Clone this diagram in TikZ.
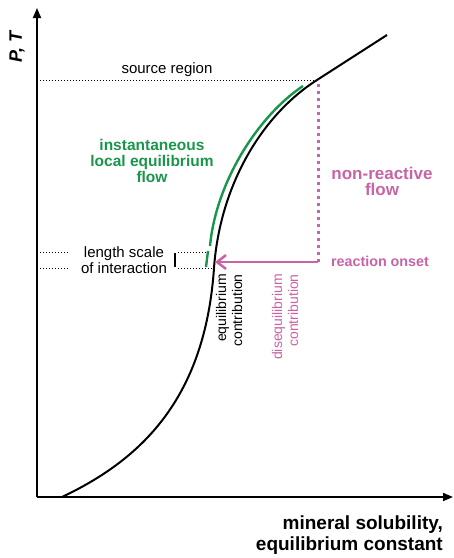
\documentclass[tikz,border=0pt]{standalone}
\usepackage{fontspec}
\setmainfont{Liberation Sans}
\usepackage{tikz}
\usetikzlibrary{arrows.meta}
\definecolor{flowpink}{RGB}{200,100,165}
\definecolor{eqgreen}{RGB}{25,150,75}

\begin{document}
\begin{tikzpicture}[x=1pt, y=-1pt,
    every node/.style={inner sep=0pt, align=center},
    plain/.style={font=\fontsize{15}{16}\selectfont},
    side/.style={font=\fontsize{14}{16}\selectfont, rotate=90, align=right, anchor=east},
    heavy/.style={font=\fontsize{#1}{16}\selectfont\bfseries},
    axis/.style={line width=1.8pt, -{Triangle[length=10pt,width=8pt]}},
    guide/.style={line width=1pt, dash pattern=on 1.2pt off 1.8pt},
    pinkdots/.style={flowpink, line width=3pt, dash pattern=on 3pt off 4pt}
]
\useasboundingbox (0,0) rectangle (454,558);

\coordinate (O) at (37,497);
\coordinate (ytop) at (37,8);
\coordinate (xend) at (453,497);
\coordinate (start) at (62,497);
\coordinate (turn) at (214,268);
\coordinate (src) at (317,80);
\coordinate (last) at (387,35);
\coordinate (srcaxis) at (37,80);
\coordinate (onset) at (318,262);
\coordinate (hit) at (215,262);

\draw[axis] (O) -- (ytop);
\draw[axis] (O) -- (xend);

\node[font=\fontsize{18}{20}\selectfont\bfseries\itshape, rotate=90] (PT) at (17,47) {P, T};
\node[font=\fontsize{19}{21}\selectfont\bfseries, align=right, anchor=east] (xlabel) at (443,535) {mineral solubility,\\equilibrium constant};

\draw[line width=2pt] (start) .. controls (140,460) and (205,400) .. (turn)
    .. controls (220,185) and (262,115) .. (src) -- (last);

\draw[eqgreen, line width=2.4pt] (210,246) .. controls (216,182) and (258,116) .. (303,86);
\draw[eqgreen, line width=2.4pt] (208,251) -- (206,267);

\draw[guide] (srcaxis) -- (src);
\node[plain] (source) at (167,70) {source region};

\draw[pinkdots] (318,84) -- (onset);
\draw[flowpink, line width=2.5pt, -{Straight Barb[length=9pt,width=14pt]}] (onset) -- (hit);

\node[plain] (lscale) at (124,260) {length scale\\of interaction};
\draw[guide] (37,252) coordinate (ls1) -- (68,252);
\draw[guide] (37,268) coordinate (ls2) -- (68,268);
\draw[guide] (178,252) -- (208,252);
\draw[guide] (178,268) -- (212,268);
\draw[line width=1.8pt] (175,253) -- (175,267);

\node[heavy=15.5, text=eqgreen] (eqflow) at (152,161) {instantaneous\\local equilibrium\\flow};
\node[heavy=17, text=flowpink] (nonreact) at (382,181) {non-reactive\\flow};
\node[heavy=14.3, text=flowpink] (onsettext) at (380,261) {reaction onset};

\node[side] (eqcontrib) at (229,274) {equilibrium\\contribution};
\node[side, text=flowpink] (diseq) at (285,274) {disequilibrium\\contribution};
\end{tikzpicture}
\end{document}
